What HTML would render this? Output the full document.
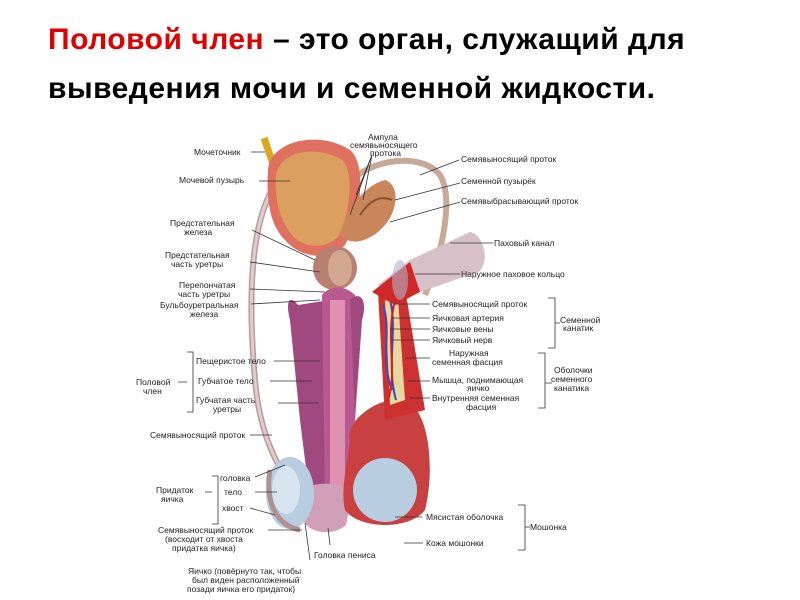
<!DOCTYPE html>
<html><head><meta charset="utf-8"><style>
body{margin:0;width:800px;height:600px;background:#fff;overflow:hidden;font-family:"Liberation Sans",sans-serif}
.t{position:absolute;left:48px;font-weight:bold;font-size:30px;letter-spacing:0.5px;color:#000;white-space:nowrap}
svg{position:absolute;left:0;top:0}
svg text{font-family:"Liberation Sans",sans-serif;font-size:8.5px;fill:#222}
</style></head><body>
<div class="t" style="top:23px"><span style="color:#e00000">Половой член</span> – это орган, служащий для</div>
<div class="t" style="top:72px">выведения мочи и семенной жидкости.</div>
<svg width="800" height="600" viewBox="0 0 800 600">
<path d="M272,190 C250,230 248,300 255,380 C260,440 280,470 300,500" fill="none" stroke="#b89a9a" stroke-width="6"/>
<path d="M272,190 C250,230 248,300 255,380 C260,440 280,470 300,500" fill="none" stroke="#e0cccc" stroke-width="3"/>
<path d="M345,190 C360,160 420,150 440,175 C455,200 440,260 425,295" fill="none" stroke="#c8a898" stroke-width="6"/>
<path d="M264,138 L278,178" stroke="#d9a820" stroke-width="7"/>
<path d="M268,170 C270,140 320,130 350,150 C368,165 360,220 345,245 C330,262 300,258 285,240 C270,225 266,200 268,170Z" fill="#e07060"/>
<path d="M276,175 C280,150 318,145 342,160 C355,172 350,215 338,237 C325,250 302,248 292,235 C280,220 274,200 276,175Z" fill="#dba060"/>
<path d="M340,235 C345,210 365,185 385,180 C400,185 398,210 385,225 C372,240 352,248 340,235Z" fill="#c9865a"/>
<path d="M360,215 C370,200 380,195 392,200" stroke="#8b5030" stroke-width="2" fill="none"/>
<ellipse cx="335" cy="268" rx="22" ry="22" fill="#b88070"/>
<ellipse cx="340" cy="268" rx="12" ry="18" fill="#d2a890"/>
<path d="M298,305 C290,295 285,300 290,320 L300,420 L310,500 L330,500 L330,300 Z" fill="#a04880"/>
<path d="M322,295 C330,285 345,285 355,295 L355,500 L325,500Z" fill="#b85a90"/>
<path d="M330,300 L345,300 L345,490 L330,490Z" fill="#e090b0"/>
<path d="M350,300 C360,290 368,300 362,320 L355,420 Z" fill="#a04880"/>
<path d="M300,495 C300,480 350,480 352,495 L346,525 C335,535 312,535 304,522Z" fill="#d0a0b8"/>
<ellipse cx="290" cy="493" rx="24" ry="36" fill="#b9cde0"/>
<ellipse cx="286" cy="490" rx="14" ry="24" fill="#d8e4f0"/>
<path d="M270,470 C265,500 275,525 300,530" stroke="#b09090" stroke-width="5" fill="none"/>
<path d="M350,440 C345,420 380,395 405,400 C430,410 435,470 425,510 C410,530 360,530 345,510 C340,490 348,460 350,440Z" fill="#c84040"/>
<ellipse cx="385" cy="490" rx="32" ry="32" fill="#b9cde0"/>
<path d="M378,292 L405,288 L425,410 L385,420 Z" fill="#cc3030"/>
<path d="M385,300 L398,298 L405,400 L390,405Z" fill="#e8d8a0"/>
<path d="M383,305 C392,330 380,360 392,390 M390,300 C398,330 386,365 396,400" stroke="#3050c0" stroke-width="2" fill="none"/>
<path d="M395,300 C385,340 398,370 388,400" stroke="#d02020" stroke-width="2" fill="none"/>
<path d="M378,285 L410,260 L470,232 C485,235 490,265 478,272 L420,292 L395,300Z" fill="#d8c0c8"/>
<path d="M372,292 L410,262 L420,292 L395,305Z" fill="#d02828"/>
<ellipse cx="400" cy="280" rx="8" ry="20" fill="#b0b0c8" opacity=".6"/>
<g stroke="#333" stroke-width="0.8" fill="none">
<path d="M251,152H265M259,181H290M252,230L315,260M250,262L320,272M250,289L325,292M251,304L320,300"/>
<path d="M372,155L356,195M372,155L350,215M372,155L363,200"/>
<path d="M459,160L420,175M460,183L395,200M460,202L390,222M493,243H450M460,274H415"/>
<path d="M430,304H395M430,318H392M430,329H390M430,340H392M430,358H405M430,381H408M430,398H410"/>
<path d="M274,361H320M270,381H312M278,403H318M250,435H272"/>
<path d="M255,477L285,465M255,492H277M250,508L275,515M268,530H302"/>
<path d="M330,545L328,528M310,560L305,523M422,517H395M423,543H404"/>
<path d="M187,352H193V412H187M187,382H178M212,476H218V524H212M212,492H205"/>
<path d="M548,298H555V348H548M555,323H560M538,353H545V408H538M545,383H552M518,505H525V550H518M525,527H530"/>
</g>
<text x="194" y="155">Мочеточник</text>
<text x="179" y="183">Мочевой пузырь</text>
<text x="170" y="226">Предстательная</text><text x="184" y="235">железа</text>
<text x="165" y="258">Предстательная</text><text x="171" y="267">часть уретры</text>
<text x="179" y="288">Перепончатая</text><text x="178" y="297">часть уретры</text>
<text x="160" y="308">Бульбоуретральная</text><text x="190" y="317">железа</text>
<text x="368" y="140">Ампула</text><text x="350" y="148">семявыносящего</text><text x="370" y="156">протока</text>
<text x="461" y="162">Семявыносящий проток</text>
<text x="461" y="184">Семенной пузырёк</text>
<text x="461" y="204">Семявыбрасывающий проток</text>
<text x="494" y="246">Паховый канал</text>
<text x="461" y="277">Наружное паховое кольцо</text>
<text x="432" y="307">Семявыносящий проток</text>
<text x="432" y="321">Яичковая артерия</text>
<text x="432" y="332">Яичковые вены</text>
<text x="432" y="343">Яичковый нерв</text>
<text x="560" y="323">Семенной</text><text x="563" y="331">канатик</text>
<text x="449" y="356">Наружная</text><text x="432" y="365">семенная фасция</text>
<text x="432" y="383">Мышца, поднимающая</text><text x="467" y="391">яичко</text>
<text x="432" y="401">Внутренняя семенная</text><text x="466" y="410">фасция</text>
<text x="554" y="373">Оболочки</text><text x="551" y="382">семенного</text><text x="554" y="391">канатика</text>
<text x="196" y="364">Пещеристое тело</text>
<text x="198" y="384">Губчатое тело</text>
<text x="196" y="403">Губчатая часть</text><text x="213" y="412">уретры</text>
<text x="136" y="385">Половой</text><text x="143" y="394">член</text>
<text x="150" y="438">Семявыносящий проток</text>
<text x="220" y="481">головка</text><text x="224" y="495">тело</text><text x="222" y="511">хвост</text>
<text x="156" y="493">Придаток</text><text x="161" y="502">яичка</text>
<text x="158" y="533">Семявыносящий проток</text><text x="165" y="542">(восходит от хвоста</text><text x="172" y="551">придатка яичка)</text>
<text x="314" y="558">Головка пениса</text>
<text x="188" y="574">Яичко (повёрнуто так, чтобы</text><text x="192" y="583">был виден расположенный</text><text x="187" y="592">позади яичка его придаток)</text>
<text x="426" y="520">Мясистая оболочка</text>
<text x="426" y="546">Кожа мошонки</text>
<text x="530" y="530">Мошонка</text>
</svg>
</body></html>
